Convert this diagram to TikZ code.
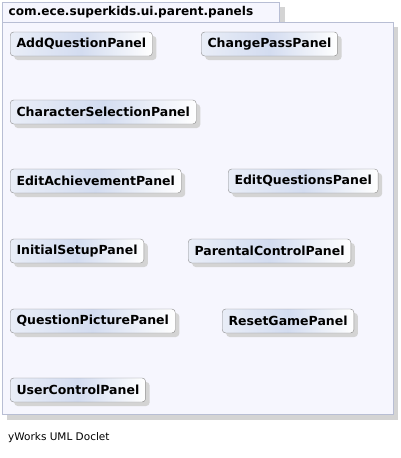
\documentclass[tikz,border=0pt]{standalone}
\usepackage{fontspec}
\setmainfont{DejaVu Sans}
\usetikzlibrary{shadows}
\definecolor{pkgfill}{HTML}{F6F6FE}
\definecolor{pkgdraw}{HTML}{B8BED4}
\definecolor{shadowgrey}{HTML}{D4D4D4}
\definecolor{nodeblue}{HTML}{D3DCF0}
\definecolor{nodeedge}{HTML}{8A8A8A}
\tikzset{
  cls/.style={draw=nodeedge, rounded corners=3.5pt, anchor=west,
    left color=nodeblue!50!white, right color=white, middle color=nodeblue,
    minimum height=24pt, inner xsep=6.3pt, inner ysep=0pt,
    font=\fontsize{12.5}{14}\selectfont\bfseries, text=black,
    drop shadow={shadow xshift=4pt, shadow yshift=-4pt, fill=shadowgrey, opacity=1}},
  pkgbox/.style={fill=pkgfill, draw=pkgdraw, line width=0.8pt},
}
\begin{document}
\begin{tikzpicture}[x=1pt,y=-1pt]
\useasboundingbox (0,0) rectangle (401,458);
% shadows of package
\fill[shadowgrey] (7,27) rectangle (398,420);
\fill[shadowgrey] (7,7) rectangle (284.5,27);
% tab
\draw[pkgbox] (2,2) rectangle (279.5,22);
% main box
\draw[pkgbox] (2,22) rectangle (393,414.5);
\node[anchor=west, inner sep=0pt, font=\fontsize{12.1}{14}\selectfont\bfseries] (title) at (8.5,12.5) {com.ece.superkids.ui.parent.panels};
% classes
\node[cls] (aqp) at (10,44) {AddQuestionPanel};
\node[cls] (cpp) at (201,44) {ChangePassPanel};
\node[cls] (csp) at (10,112) {CharacterSelectionPanel};
\node[cls] (eap) at (10,181) {EditAchievementPanel};
\node[cls] (eqp) at (228,181) {EditQuestionsPanel};
\node[cls] (isp) at (10,251) {InitialSetupPanel};
\node[cls] (pcp) at (188,251) {ParentalControlPanel};
\node[cls] (qpp) at (10,321) {QuestionPicturePanel};
\node[cls] (rgp) at (222,321) {ResetGamePanel};
\node[cls] (ucp) at (10,390) {UserControlPanel};
% footer
\node[anchor=west, inner sep=0pt, font=\fontsize{10.5}{12}\selectfont] (foot) at (8,438) {yWorks UML Doclet};
\end{tikzpicture}
\end{document}
